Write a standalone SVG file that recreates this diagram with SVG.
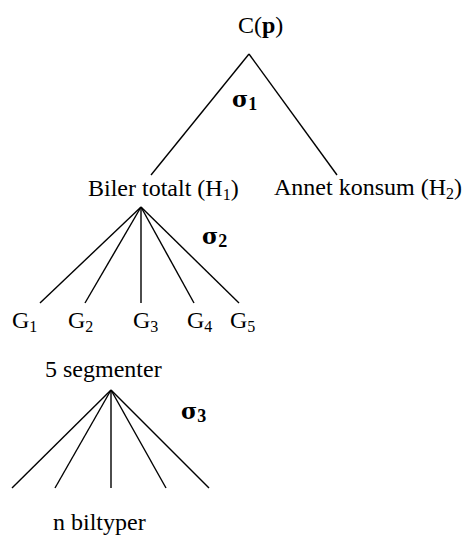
<svg xmlns="http://www.w3.org/2000/svg" width="467" height="538" viewBox="0 0 467 538">
<style>
text{font-family:"Liberation Serif","Times New Roman",serif;font-size:24px;fill:#000}
.b{font-weight:bold}
.sub{font-size:16px}
.sig{font-family:"DejaVu Serif","Liberation Serif",serif;font-weight:bold;font-size:22px}
.sig .sub{font-family:"Liberation Serif",serif;font-size:18px}
line{stroke:#000;stroke-width:1.4}
</style>
<rect width="467" height="538" fill="#fff"/>
<g id="connectors">
<line x1="249" y1="54" x2="151" y2="175"/>
<line x1="249" y1="54" x2="337" y2="175"/>
<line x1="141" y1="207" x2="40" y2="303"/>
<line x1="141" y1="207" x2="85" y2="303"/>
<line x1="141" y1="207" x2="141" y2="303"/>
<line x1="141" y1="207" x2="194" y2="303"/>
<line x1="141" y1="207" x2="239" y2="303"/>
<line x1="111" y1="390" x2="12" y2="488"/>
<line x1="111" y1="390" x2="55" y2="488"/>
<line x1="111" y1="390" x2="111" y2="488"/>
<line x1="111" y1="390" x2="166" y2="488"/>
<line x1="111" y1="390" x2="209" y2="488"/>
</g>
<g id="root"><text x="238" y="33">C(<tspan class="b">p</tspan>)</text></g>
<g id="sigma1"><text x="232" y="107" class="sig">σ<tspan class="sub" dy="3">1</tspan></text></g>
<g id="H1"><text x="88" y="196">Biler totalt (H<tspan class="sub" dy="4">1</tspan><tspan dy="-4">)</tspan></text></g>
<g id="H2"><text x="274" y="195">Annet konsum (H<tspan class="sub" dy="4">2</tspan><tspan dy="-4">)</tspan></text></g>
<g id="sigma2"><text x="202" y="244" class="sig">σ<tspan class="sub" dy="3">2</tspan></text></g>
<g id="G1"><text x="12" y="328">G<tspan class="sub" dy="4">1</tspan></text></g>
<g id="G2"><text x="68" y="328">G<tspan class="sub" dy="4">2</tspan></text></g>
<g id="G3"><text x="133" y="328">G<tspan class="sub" dy="4">3</tspan></text></g>
<g id="G4"><text x="187" y="328">G<tspan class="sub" dy="4">4</tspan></text></g>
<g id="G5"><text x="230" y="328">G<tspan class="sub" dy="4">5</tspan></text></g>
<g id="segmenter"><text x="45" y="377">5 segmenter</text></g>
<g id="sigma3"><text x="181" y="419" class="sig">σ<tspan class="sub" dy="3">3</tspan></text></g>
<g id="biltyper"><text x="53" y="530">n biltyper</text></g>
</svg>
